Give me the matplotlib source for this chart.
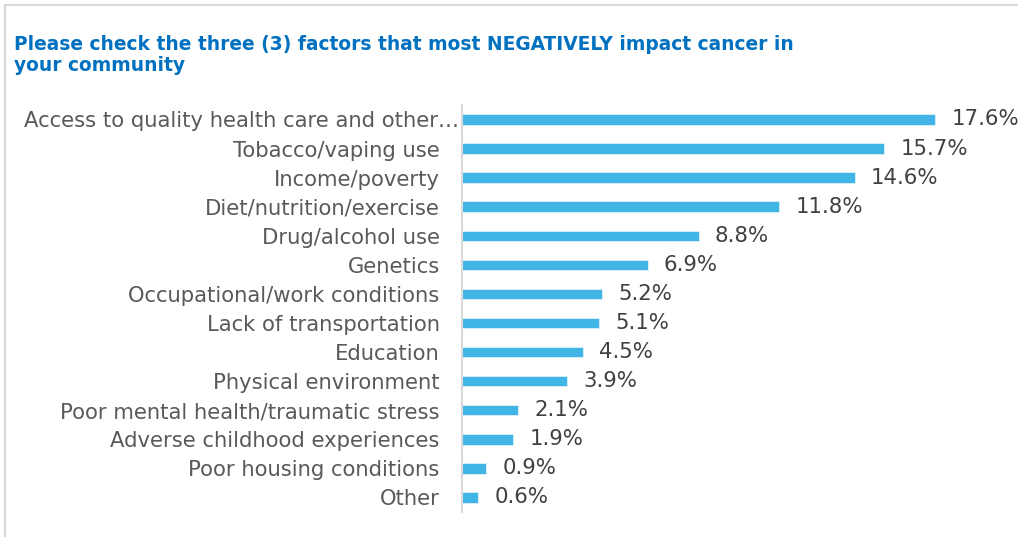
import matplotlib.pyplot as plt
from matplotlib.lines import Line2D

# survey answers, top to bottom
factors = [
    "Access to quality health care and other\u2026",
    "Tobacco/vaping use",
    "Income/poverty",
    "Diet/nutrition/exercise",
    "Drug/alcohol use",
    "Genetics",
    "Occupational/work conditions",
    "Lack of transportation",
    "Education",
    "Physical environment",
    "Poor mental health/traumatic stress",
    "Adverse childhood experiences",
    "Poor housing conditions",
    "Other",
]
percents = [17.6, 15.7, 14.6, 11.8, 8.8, 6.9, 5.2, 5.1, 4.5, 3.9, 2.1, 1.9, 0.9, 0.6]

title = ("Please check the three (3) factors that most NEGATIVELY impact cancer in\n"
         "your community")

fig = plt.figure(figsize=(10.18, 5.37), dpi=100)
ax = fig.add_axes([0.4538, 0.0466, 0.5285, 0.758])

ypos = list(range(len(factors)))
ax.barh(ypos, percents, height=0.36, color="#41B6E6", edgecolor="#DDF0FA", linewidth=0.6)

for y, v in zip(ypos, percents):
    ax.text(v + 0.6, y, f"{v}%", va="center", ha="left", fontsize=15.3,
            color="#404040", clip_on=False)

ax.set_xlim(0, 20)
ax.set_ylim(13.5, -0.5)
ax.set_yticks(ypos)
ax.set_yticklabels(factors, fontsize=15.2, color="#595959")
ax.tick_params(axis="y", length=0, pad=16)
# the truncated first label sits closer to the axis
ax.yaxis.get_major_ticks()[0].set_pad(2)
ax.set_xticks([])
for s in ["top", "right", "bottom"]:
    ax.spines[s].set_visible(False)
ax.spines["left"].set_color("#D9D9D9")
ax.spines["left"].set_linewidth(1.5)

fig.text(0.0138, 0.935, title, fontsize=13.4, fontweight="bold", color="#0070C0",
         va="top", ha="left", linespacing=1.15)

# frame edges of the original chart box
fig.add_artist(Line2D([0.005, 1.0], [0.99, 0.99], color="#D9D9D9", lw=1.5))
fig.add_artist(Line2D([0.005, 0.005], [0.0, 0.99], color="#D9D9D9", lw=1.5))

fig.savefig("out.png", dpi=100)
